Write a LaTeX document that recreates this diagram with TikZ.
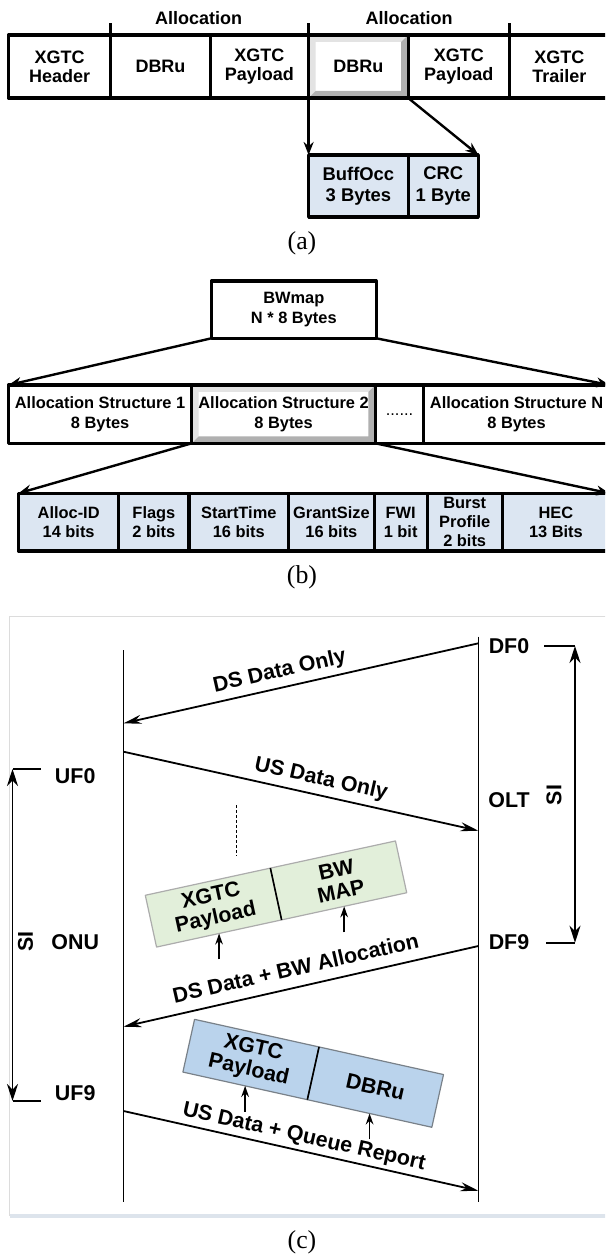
\documentclass[tikz,border=0pt]{standalone}
\usepackage{fontspec}
\setmainfont{Liberation Sans}
\newfontfamily\capfont{Liberation Serif}
\usetikzlibrary{arrows.meta}
\definecolor{cellblue}{HTML}{DCE6F2}
\definecolor{pktblue}{HTML}{BAD3EC}
\definecolor{pktgreen}{HTML}{E2EFDA}
\definecolor{framegray}{HTML}{DCDCDC}
\definecolor{framebot}{HTML}{DDE4EC}
\tikzset{
  cell/.style={draw, line width=1.6pt, fill=white, inner sep=0.5pt, outer sep=0pt, align=center, font=\bfseries\fontsize{9}{9.5}\selectfont},
  bcell/.style={cell, fill=cellblue},
  flat/.style={},
  bevel/.style={path picture={
    \coordinate (bvSW) at (path picture bounding box.south west);
    \coordinate (bvNE) at (path picture bounding box.north east);
    \coordinate (bvNW) at (bvSW |- bvNE);
    \coordinate (bvSE) at (bvNE |- bvSW);
    \fill[gray!22] (bvSW) -- (bvNW) -- (bvNE) -- ([shift={(-3.5pt,-3.5pt)}]bvNE) -- ([shift={(3.5pt,-3.5pt)}]bvNW) -- ([shift={(3.5pt,3.5pt)}]bvSW) -- cycle;
    \fill[gray!62] (bvSW) -- (bvSE) -- (bvNE) -- ([shift={(-3.5pt,-3.5pt)}]bvNE) -- ([shift={(-3.5pt,3.5pt)}]bvSE) -- ([shift={(3.5pt,3.5pt)}]bvSW) -- cycle;}},
  thickar/.style={-{Stealth[length=6.5pt,width=5pt]}, line width=1.2pt},
  captxt/.style={font=\capfont\fontsize{12.9}{14}\selectfont},
  lbl/.style={font=\bfseries\fontsize{10.7}{12}\selectfont, inner sep=1pt},
  life/.style={line width=0.8pt},
  msg/.style={-{Stealth[length=9pt,width=4.5pt]}, line width=0.9pt},
  siar/.style={{Stealth[length=8.5pt,width=5.5pt]}-{Stealth[length=8.5pt,width=5.5pt]}, line width=0.9pt},
  upar/.style={-{Stealth[length=5.5pt,width=3.8pt]}, line width=0.9pt},
  gpkt/.style={draw=gray!65, line width=0.6pt, fill=pktgreen, minimum width=64pt, minimum height=26.5pt, inner sep=0pt, outer sep=0pt, align=center, font=\bfseries\fontsize{10.7}{11.2}\selectfont},
  bpkt/.style={gpkt, draw=gray!60!pktblue!80!black, fill=pktblue, minimum width=63.75pt, minimum height=27pt},
  pktdiv/.style={line width=0.8pt}
}
\begin{document}
\begin{tikzpicture}[x=0.5pt, y=-0.5pt, line join=round, >=Stealth]
\useasboundingbox (0,0) rectangle (605,1256);
\clip (0,0) rectangle (605,1256);
\foreach \nm/\xa/\xb/\sty/\txt in {xhead/8.5/110.7/flat/{XGTC\\Header}, dbr1/110.7/210.3/flat/DBRu, pay1/210.3/308.6/flat/{XGTC\\Payload}, dbr2/308.6/408.2/bevel/DBRu, pay2/408.2/509.3/flat/{XGTC\\Payload}, xtrail/509.3/609.5/flat/{XGTC\\Trailer}}
  \node[cell, \sty, minimum width={(\xb-\xa)*0.5pt}, minimum height=31.5pt] (\nm) at ({(\xa+\xb)/2},66.5) {\txt};
\foreach \nm in {xhead, pay1, pay2} \draw[line width=1.6pt] (\nm.north east) -- ++(0,-12.3);
\node[lbl, font=\bfseries\fontsize{9}{10}\selectfont] (alloc1) at (198.7,18) {Allocation};
\node[lbl, font=\bfseries\fontsize{9}{10}\selectfont] (alloc2) at (409,18) {Allocation};
\node[bcell, font=\bfseries\fontsize{9.2}{10.6}\selectfont, minimum width=49.8pt, minimum height=31pt] (buffocc) at (358.4,186) {BuffOcc\\3 Bytes};
\node[bcell, font=\bfseries\fontsize{9.2}{10.6}\selectfont, minimum width=35.1pt, minimum height=31pt] (crc) at (443.3,186) {CRC\\1 Byte};
\draw[thickar] (dbr2.south west) -- (buffocc.north west);
\draw[thickar] (dbr2.south east) -- (crc.north east);
\node[captxt] (capa) at (302,243) {(a)};
\node[cell, font=\bfseries\fontsize{8.2}{9.7}\selectfont, minimum width=82.4pt, minimum height=28.65pt] (bwmap) at (293.8,309.65) {BWmap\\N * 8 Bytes};
\foreach \nm/\xa/\xb/\sty/\txt in {as1/8.5/191.7/flat/{Allocation Structure 1\\8 Bytes}, as2/191.7/375.4/bevel/{Allocation Structure 2\\8 Bytes}, asdots/375.4/423.6/flat/{\mdseries ......}, asn/423.6/609.5/flat/{Allocation Structure N\\8 Bytes}}
  \node[cell, \sty, font=\bfseries\fontsize{8.2}{10}\selectfont, minimum width={(\xb-\xa)*0.5pt}, minimum height=29.15pt] (\nm) at ({(\xa+\xb)/2},414.15) {\txt};
\draw[thickar] (bwmap.south west) -- (as1.north west);
\draw[thickar] (bwmap.south east) -- (asn.north east);
\foreach \nm/\xa/\xb/\txt in {aid/18.5/118.8/{Alloc-ID\\14 bits}, flg/118.8/189/{Flags\\2 bits}, stt/189/288.6/{StartTime\\16 bits}, gsz/288.6/374.2/{GrantSize\\16 bits}, fwi/374.2/427.1/{FWI\\1 bit}, bpr/427.1/502.3/{Burst\\Profile\\2 bits}, hec/502.3/609.5/{HEC\\13 Bits}}
  \node[bcell, font=\bfseries\fontsize{8.2}{9.6}\selectfont, minimum width={(\xb-\xa)*0.5pt}, minimum height=28.85pt] (\nm) at ({(\xa+\xb)/2},522.15) {\txt};
\draw[thickar] (as2.south west) -- (aid.north west);
\draw[thickar] (as2.south east) -- (hec.north east);
\node[captxt] (capb) at (302,577) {(b)};
\draw[framegray, line width=0.6pt] (609,616.7) -- (9.6,616.7) -- (9.6,1216);
\draw[framebot, line width=1.6pt] (9.6,1216) -- (609,1216);
\coordinate (onuT) at (123.5,650); \coordinate (onuB) at (123.5,1201.7);
\coordinate (oltT) at (478.4,636.7); \coordinate (oltB) at (478.4,1201.7);
\draw[life] (onuT) -- (onuB);
\draw[life] (oltT) -- (oltB);
\node[lbl] (df0) at (509,646) {DF0};
\node[lbl] (olt) at (509,800) {OLT};
\node[lbl] (df9) at (509,941.7) {DF9};
\node[lbl] (uf0) at (75.2,775.7) {UF0};
\node[lbl] (onu) at (75.2,941.7) {ONU};
\node[lbl] (uf9) at (75.2,1092.7) {UF9};
\node[lbl, rotate=90] (sir) at (554,795) {SI};
\node[lbl, rotate=90] (sil) at (25.5,941.7) {SI};
\coordinate (df0a) at (544,646); \coordinate (df0b) at (575,646);
\coordinate (df9a) at (546,942.7); \coordinate (df9b) at (575,942.7);
\draw[life] (df0a) -- (df0b);
\draw[life] (df9a) -- (df9b);
\draw[siar] (df0b) -- (df9b);
\coordinate (uf0a) at (40.5,769); \coordinate (uf0b) at (12.5,769);
\coordinate (uf9a) at (40.5,1101); \coordinate (uf9b) at (12.5,1101);
\draw[life] (uf0a) -- (uf0b);
\draw[life] (uf9a) -- (uf9b);
\draw[siar] (uf0b) -- (uf9b);
\coordinate (m1s) at (478.4,643.3); \coordinate (m1e) at (123.5,723.3);
\coordinate (m2s) at (123.5,751.7); \coordinate (m2e) at (478.4,830.7);
\coordinate (m3s) at (478.4,946); \coordinate (m3e) at (123.5,1026.7);
\coordinate (m4s) at (123.5,1111); \coordinate (m4e) at (478.4,1190.7);
\draw[msg] (m1s) -- node[lbl, sloped, above=1.5pt, pos=0.55] {DS Data Only} (m1e);
\draw[msg] (m2s) -- node[lbl, sloped, above=1.5pt, pos=0.547] {US Data Only} (m2e);
\draw[msg] (m3s) -- node[lbl, sloped, above=4.2pt, pos=0.503] {DS Data + BW Allocation} (m3e);
\draw[msg] (m4s) -- node[lbl, sloped, above=0.5pt, pos=0.5] {US Data + Queue Report} (m4e);
\coordinate (dotT) at (236.5,805); \coordinate (dotB) at (236.5,856);
\draw[line width=0.6pt, dash pattern=on 1.5pt off 1pt] (dotT) -- (dotB);
\node[gpkt, rotate=12.25, anchor=east] (gpay) at (276,894) {XGTC\\Payload};
\node[gpkt, rotate=12.25, anchor=west] (gmap) at (gpay.east) {BW\\MAP};
\node[bpkt, rotate=-12.5, anchor=east] (bpay) at (313.2,1073.3) {XGTC\\Payload};
\node[bpkt, rotate=-12.5, anchor=west] (bdbr) at (bpay.east) {DBRu};
\draw[pktdiv] (gpay.north east) -- (gpay.south east);
\draw[pktdiv] (bpay.north east) -- (bpay.south east);
\foreach \nm in {gpay, gmap, bpay, bdbr} {
  \coordinate (\nm U) at ([yshift=-13pt]\nm.south);
  \draw[upar] (\nm U) -- (\nm.south);
}
\node[captxt] (capc) at (302,1242) {(c)};
\end{tikzpicture}
\end{document}
